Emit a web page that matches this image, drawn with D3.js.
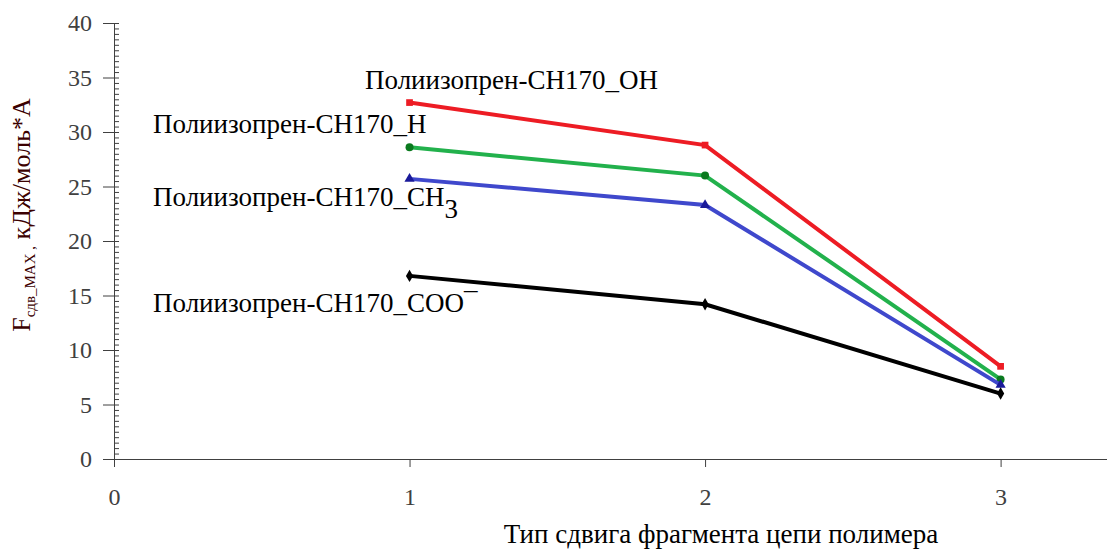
<!DOCTYPE html>
<html lang="ru">
<head>
    <meta charset="UTF-8">
    <title>Fсдв_MAX по типу сдвига</title>
    <script src="https://d3js.org/d3.v7.min.js"></script>
    <style>
        body { margin: 0; background: #fff; }
        svg { display: block; }
        svg text { font-family: "Liberation Serif", "DejaVu Serif", serif; }
        .axis path, .axis line { stroke: #404040; }
        .axis text { fill: #404040; font-size: 24px; }
        .series-label { font-size: 27px; fill: #000; }
    </style>
</head>
<body>
    <svg width="1107" height="549"></svg>

    <script>
        // данные
        const shiftTypes = [1, 2, 3];
        const seriesNames = ["OH", "H", "CH3", "COO"];
        const valuesOH  = [32.7, 28.8, 8.5];
        const valuesH   = [28.6, 26.0, 7.3];
        const valuesCH3 = [25.7, 23.3, 6.8];
        const valuesCOO = [16.8, 14.2, 6.0];
        const yTicks = [0, 5, 10, 15, 20, 25, 30, 35, 40];
        const xTicks = [0, 1, 2, 3];

        const colors = { OH: "#ed1c24", H: "#22b14c", CH3: "#3f48cc", COO: "#000000" };
        const markers = { OH: d3.symbolSquare, H: d3.symbolCircle, CH3: d3.symbolTriangle, COO: d3.symbolDiamond };

        const series = [
            { name: "OH", values: valuesOH },
            { name: "H", values: valuesH },
            { name: "CH3", values: valuesCH3 },
            { name: "COO", values: valuesCOO }
        ];

        const svg = d3.select("svg");

        const x = d3.scaleLinear().domain([0, 3.36]).range([114, 1107]);
        const y = d3.scaleLinear().domain([0, 40]).range([459, 23]);

        // ось Y: мелкие деления каждые 0.5
        svg.append("g")
            .attr("class", "axis")
            .attr("transform", `translate(${x(0)},0)`)
            .call(d3.axisRight(y).tickValues(d3.range(0, 40.01, 0.5)).tickSize(5).tickFormat(""))
            .call(g => g.select(".domain").remove());

        svg.append("g")
            .attr("class", "axis")
            .attr("transform", `translate(${x(0)},0)`)
            .call(d3.axisLeft(y).tickValues(yTicks).tickSize(11).tickSizeOuter(0).tickPadding(11).tickFormat(d3.format("d")));

        svg.append("g")
            .attr("class", "axis")
            .attr("transform", `translate(0,${y(0)})`)
            .call(d3.axisBottom(x).tickValues(xTicks).tickSize(8).tickSizeOuter(0).tickPadding(21).tickFormat(d3.format("d")));

        svg.selectAll(".axis").attr("font-family", null);

        // линии
        const line = d3.line()
            .x((d, i) => x(shiftTypes[i]))
            .y(d => y(d));

        series.forEach(s => {
            svg.append("path")
                .datum(s.values)
                .attr("fill", "none")
                .attr("stroke", colors[s.name])
                .attr("stroke-width", 4)
                .attr("d", line);

            svg.selectAll(null)
                .data(s.values)
                .enter().append("path")
                .attr("transform", (d, i) => `translate(${x(shiftTypes[i])},${y(d)})`)
                .attr("d", d3.symbol().type(markers[s.name]).size(s.name === "H" ? 50 : 45))
                .attr("fill", s.name === "H" ? "#0a7a1e" : (s.name === "CH3" ? "#1a1a9a" : colors[s.name]));
        });

        // подписи рядов
        const labelPos = [
            { x: 365, y: 89 },
            { x: 153, y: 133 },
            { x: 153, y: 206 },
            { x: 153, y: 312 }
        ];

        seriesNames.forEach((name, i) => {
            const t = svg.append("text")
                .attr("class", "series-label")
                .attr("x", labelPos[i].x)
                .attr("y", labelPos[i].y);
            if (name === "CH3") {
                t.append("tspan").text("Полиизопрен-CH170_CH");
                t.append("tspan").attr("dy", 12).text("3");
            } else if (name === "COO") {
                t.text("Полиизопрен-CH170_COO¯");
            } else {
                t.text("Полиизопрен-CH170_" + name);
            }
        });

        // подписи осей
        svg.append("text")
            .attr("x", 721)
            .attr("y", 543)
            .attr("text-anchor", "middle")
            .attr("font-size", 27)
            .attr("fill", "#000")
            .text("Тип сдвига фрагмента цепи полимера");

        const yTitle = svg.append("text")
            .attr("transform", "translate(30,215) rotate(-90)")
            .attr("text-anchor", "middle")
            .attr("font-size", 26)
            .attr("fill", "#3b0000");
        yTitle.append("tspan").text("F");
        yTitle.append("tspan").attr("font-size", 15).attr("dy", 5).text("сдв_MAX ,");
        yTitle.append("tspan").attr("dy", -5).text("  кДж/моль*А");
    </script>
</body>
</html>
